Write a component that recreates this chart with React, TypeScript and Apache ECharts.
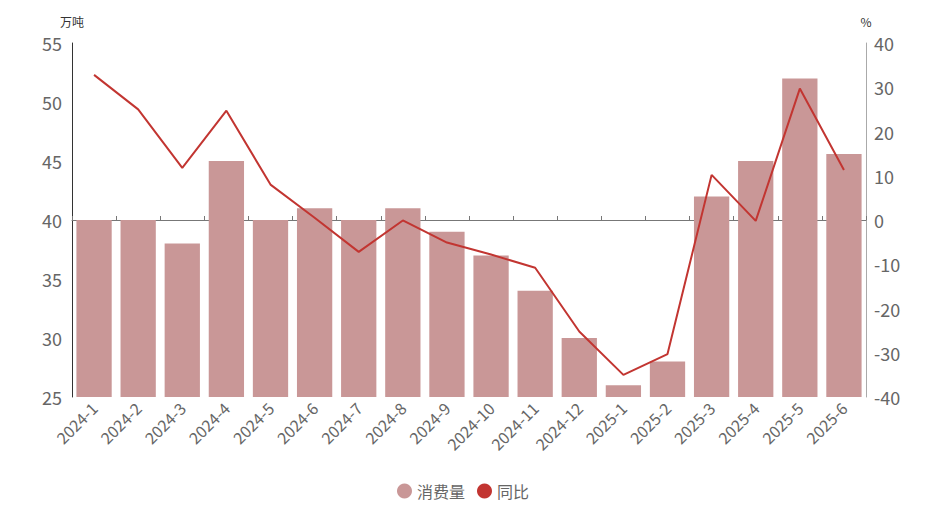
import React, { useEffect, useRef } from "react";
import * as echarts from "echarts";

const categories = [
  "2024-1", "2024-2", "2024-3", "2024-4", "2024-5", "2024-6", "2024-7", "2024-8", "2024-9",
  "2024-10", "2024-11", "2024-12", "2025-1", "2025-2", "2025-3", "2025-4", "2025-5", "2025-6",
];
const consumption = [40, 40, 38, 45, 40, 41, 40, 41, 39, 37, 34, 30, 26, 28, 42, 45, 52, 45.6];
const yoy = [32.8, 25, 11.8, 24.7, 8, 0.5, -7.2, -0.1, -5.1, -7.8, -10.8, -25.2, -35, -30.3, 10.2, -0.2, 29.7, 11.3];
const leftTicks = { min: 25, max: 55, interval: 5 };
const rightTicks = { min: -40, max: 40, interval: 10 };

const FONT = "'Noto Sans CJK SC', 'Noto Sans', sans-serif";
const BAR_COLOR = "#c99797";
const LINE_COLOR = "#c23531";

export default function App() {
  const ref = useRef<HTMLDivElement>(null);
  useEffect(() => {
    if (!ref.current) return;
    const chart = echarts.init(ref.current, undefined, { renderer: "svg" });
    chart.setOption({
      animation: false,
      textStyle: { fontFamily: FONT },
      grid: { left: 72, right: 60, top: 43, bottom: 124, containLabel: false },
      legend: {
        bottom: 17,
        left: "center",
        itemWidth: 15,
        itemHeight: 15,
        itemGap: 12,
        textStyle: { fontSize: 16, color: "#666", fontFamily: FONT },
        data: [
          { name: "消费量", icon: "circle" },
          { name: "同比", icon: "circle" },
        ],
      },
      xAxis: [
        {
          type: "category",
          data: categories,
          position: "bottom",
          axisLine: { show: false },
          axisTick: { show: false },
          axisLabel: { rotate: 45, fontSize: 16, color: "#666", margin: 8, interval: 0 },
        },
        {
          type: "category",
          data: categories,
          position: "bottom",
          axisLine: { show: true, onZero: true, onZeroAxisIndex: 1, lineStyle: { color: "#777", width: 1 } },
          axisTick: { show: true, inside: true, length: 4, interval: 0, lineStyle: { color: "#777" } },
          axisLabel: { show: false, interval: 0 },
        },
      ],
      yAxis: [
        {
          type: "value",
          min: leftTicks.min,
          max: leftTicks.max,
          interval: leftTicks.interval,
          name: "万吨",
          nameGap: 16,
          nameTextStyle: { fontSize: 12, color: "#333", align: "center" },
          axisLine: { show: true, lineStyle: { color: "#333" } },
          axisTick: { show: false },
          splitLine: { show: false },
          axisLabel: { fontSize: 18, color: "#666", margin: 10 },
        },
        {
          type: "value",
          min: rightTicks.min,
          max: rightTicks.max,
          interval: rightTicks.interval,
          name: "%",
          nameGap: 16,
          nameTextStyle: { fontSize: 12, color: "#333", align: "center" },
          axisLine: { show: true, lineStyle: { color: "#aaa" } },
          axisTick: { show: false },
          splitLine: { show: false },
          axisLabel: { fontSize: 18, color: "#666", margin: 8 },
        },
      ],
      series: [
        {
          name: "消费量",
          type: "bar",
          xAxisIndex: 0,
          yAxisIndex: 0,
          data: consumption,
          barWidth: "80%",
          itemStyle: { color: BAR_COLOR },
        },
        {
          name: "同比",
          type: "line",
          xAxisIndex: 0,
          yAxisIndex: 1,
          data: yoy,
          symbol: "none",
          lineStyle: { color: LINE_COLOR, width: 2 },
          itemStyle: { color: LINE_COLOR },
        },
      ],
    });
    return () => chart.dispose();
  }, []);
  return (
    <div
      ref={ref}
      style={{ position: "fixed", left: 0, top: 0, width: 926, height: 521, background: "#fff" }}
    />
  );
}
